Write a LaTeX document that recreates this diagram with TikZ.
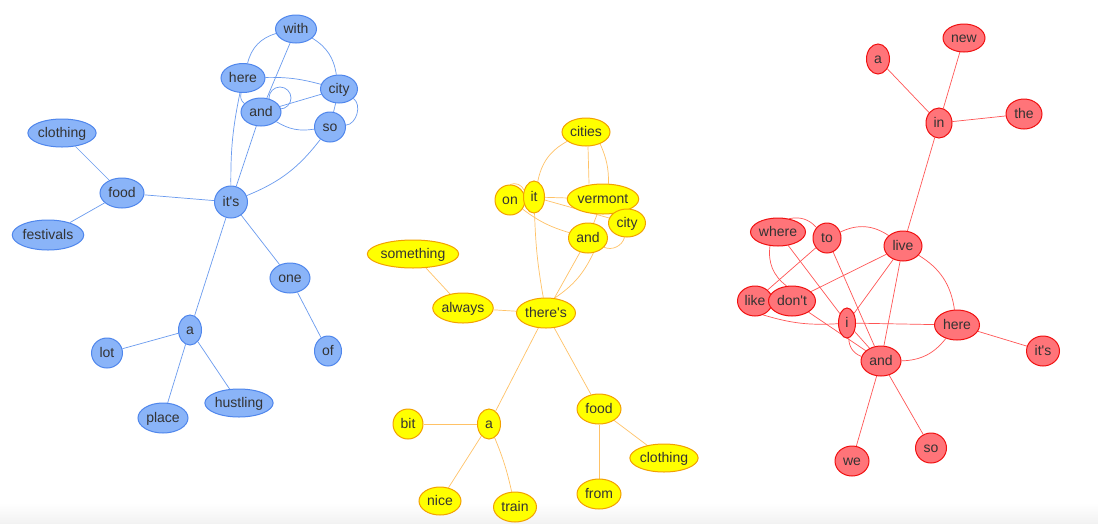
\documentclass[tikz,border=0pt]{standalone}
\usepackage{fontspec}
\setmainfont{Liberation Sans}
\usetikzlibrary{shapes.geometric}
\definecolor{txt}{HTML}{333333}
\definecolor{bfill}{HTML}{8AB4F8}
\definecolor{bdraw}{HTML}{4F86EC}
\definecolor{bedge}{HTML}{6A9BEF}
\definecolor{yfill}{HTML}{FFFF00}
\definecolor{ydraw}{HTML}{F2A000}
\definecolor{yedge}{HTML}{FFC266}
\definecolor{rfill}{HTML}{FF7479}
\definecolor{rdraw}{HTML}{F01010}
\definecolor{redge}{HTML}{FF5555}
\newcommand\ap{\textquotesingle}
\pgfdeclarelayer{bgl}
\pgfdeclarelayer{edges}
\pgfsetlayers{bgl,edges,main}
\tikzset{
  wn/.style={ellipse, inner sep=0pt, text=txt, font=\fontsize{14}{16}\selectfont, text height=11.5pt, text depth=2pt, line width=1pt},
  bn/.style={wn, fill=bfill, draw=bdraw},
  yn/.style={wn, fill=yfill, draw=ydraw},
  rn/.style={wn, fill=rfill, draw=rdraw},
  sz/.style 2 args={minimum width=#1pt, minimum height=#2pt},
  be/.style={draw=bedge, line width=0.7pt},
  ye/.style={draw=yedge, line width=0.7pt},
  re/.style={draw=redge, line width=0.7pt},
}
\begin{document}
\begin{tikzpicture}[x=1pt,y=1pt]
\useasboundingbox (0,0) rectangle (1098,-523);
\begin{pgfonlayer}{bgl}
\fill[white] (0,0) rectangle (1098,-523);
\shade[top color=white,bottom color=black!5] (0,-503) rectangle (1098,-523);
\end{pgfonlayer}
% ---------- blue cluster ----------
\node[bn,sz={41}{28}] (bwith) at (296,-29) {with};
\node[bn,sz={44}{29}] (bhere) at (243,-78) {here};
\node[bn,sz={37}{28}] (bcity) at (339,-89) {city};
\node[bn,sz={31}{30}] (bso) at (330,-127) {so};
\node[bn,sz={40}{28}] (band) at (261,-112) {and};
\node[bn,sz={33}{32}] (bits) at (231,-202) {it\ap s};
\node[bn,sz={66}{28}] (bclothing) at (62,-133) {clothing};
\node[bn,sz={44}{30}] (bfood) at (122,-193) {food};
\node[bn,sz={68}{30}] (bfestivals) at (48,-235) {festivals};
\node[bn,sz={40}{30}] (bone) at (290,-278) {one};
\node[bn,sz={27}{30}] (bof) at (328,-351) {of};
\node[bn,sz={23}{30}] (ba) at (190,-330) {a};
\node[bn,sz={31}{30}] (blot) at (107,-353) {lot};
\node[bn,sz={50}{30}] (bplace) at (163,-418) {place};
\node[bn,sz={66}{28}] (bhustling) at (239,-403) {hustling};
% ---------- yellow cluster ----------
\node[yn,sz={48}{28}] (ycities) at (586,-132) {cities};
\node[yn,sz={30}{30}] (yon) at (510,-200) {on};
\node[yn,sz={21}{32}] (yit) at (534,-197) {it};
\node[yn,sz={68}{30}] (yvermont) at (603,-199) {vermont};
\node[yn,sz={37}{28}] (ycity) at (627,-223) {city};
\node[yn,sz={39}{30}] (yand) at (588,-238) {and};
\node[yn,sz={59}{30}] (ytheres) at (546,-313) {there\ap s};
\node[yn,sz={83}{28}] (ysomething) at (413,-254) {something};
\node[yn,sz={60}{30}] (yalways) at (463,-308) {always};
\node[yn,sz={23}{30}] (ya) at (489,-424) {a};
\node[yn,sz={30}{30}] (ybit) at (408,-424) {bit};
\node[yn,sz={42}{28}] (ynice) at (440,-501) {nice};
\node[yn,sz={43}{30}] (ytrain) at (515,-507) {train};
\node[yn,sz={44}{30}] (yfood) at (599,-409) {food};
\node[yn,sz={66}{28}] (yclothing) at (664,-458) {clothing};
\node[yn,sz={44}{30}] (yfrom) at (599,-494) {from};
% ---------- red cluster ----------
\node[rn,sz={23}{30}] (ra) at (878,-59) {a};
\node[rn,sz={42}{28}] (rnew) at (964,-38) {new};
\node[rn,sz={26}{30}] (rin) at (939,-123) {in};
\node[rn,sz={36}{30}] (rthe) at (1024,-114) {the};
\node[rn,sz={55}{28}] (rwhere) at (778,-232) {where};
\node[rn,sz={28}{30}] (rto) at (827,-238) {to};
\node[rn,sz={38}{30}] (rlive) at (903,-246) {live};
\node[rn,sz={35}{30}] (rlike) at (755,-301) {like};
\node[rn,sz={47}{30}] (rdont) at (792,-301) {don\ap t};
\node[rn,sz={17}{30}] (ri) at (847,-323) {i};
\node[rn,sz={45}{30}] (rhere) at (957,-325) {here};
\node[rn,sz={33}{30}] (rits) at (1043,-351) {it\ap s};
\node[rn,sz={40}{30}] (rand) at (881,-361) {and};
\node[rn,sz={34}{30}] (rwe) at (852,-461) {we};
\node[rn,sz={31}{30}] (rso) at (931,-448) {so};
\begin{pgfonlayer}{edges}
% blue edges
\draw[be] (bfood) -- (bclothing);
\draw[be] (bfood) -- (bfestivals);
\draw[be] (bfood) -- (bits);
\draw[be] (bits) -- (ba);
\draw[be] (bits) -- (bone);
\draw[be] (bone) -- (bof);
\draw[be] (ba) -- (blot);
\draw[be] (ba) -- (bplace);
\draw[be] (ba) -- (bhustling);
\draw[be] (bits) -- (band);
\draw[be] (bits) to[bend left=6] (bhere);
\draw[be] (bits) to[bend right=15] (bso);
\draw[be] (bhere) to[bend left=30] (bwith);
\draw[be] (band) -- (bwith);
\draw[be] (bwith) to[bend left=25] (bcity);
\draw[be] (bhere) to[bend left=8] (bcity);
\draw[be] (bhere) to[bend right=35] (band);
\draw[be] (band) -- (bcity);
\draw[be] (band) to[bend right=20] (bso);
\draw[be] (bcity) -- (bso);
\draw[be] (bcity) to[bend left=70] (bso);
\draw[be] ([shift={(19,14)}]band.center) circle[radius=11];
% yellow edges
\draw[ye] (ysomething) -- (yalways);
\draw[ye] (yalways) -- (ytheres);
\draw[ye] (ytheres) -- (ya);
\draw[ye] (ya) -- (ybit);
\draw[ye] (ya) -- (ynice);
\draw[ye] (ya) to[bend left=5] (ytrain);
\draw[ye] (ytheres) -- (yfood);
\draw[ye] (yfood) -- (yfrom);
\draw[ye] (yfood) -- (yclothing);
\draw[ye] (ytheres) -- (yand);
\draw[ye] (ytheres.60) to[bend right=15] (yand.-70);
\draw[ye] (yit) to[bend right=4] (ytheres);
\draw[ye] (yit) to[bend left=25] (ycities);
\draw[ye] ([xshift=2pt]ycities.south) -- ([xshift=-14pt]yvermont.north);
\draw[ye] (ycities.-40) to[bend left=12] (yvermont.70);
\draw[ye] (yon.north) to[bend left=45] (yit.145);
\draw[ye] (yit) -- (yvermont);
\draw[ye] (yit) -- (ycity);
\draw[ye] (yon) to[bend right=10] (yand);
\draw[ye] (yvermont) -- (yand);
\draw[ye] (yvermont) -- (ycity);
\draw[ye] (yand.-30) to[bend right=50] (ycity.-100);
% red edges
\draw[re] (ra) -- (rin);
\draw[re] (rnew) -- (rin);
\draw[re] (rin) -- (rthe);
\draw[re] (rin) -- (rlive);
\draw[re] (rwhere.50) to[bend left=30] (rto.135);
\draw[re] (rwhere) -- (ri);
\draw[re] (rwhere.-120) to[bend right=30] (rdont.110);
\draw[re] (rto) -- (rlike);
\draw[re] (rto) to[bend left=30] (rlive);
\draw[re] (rto) -- (rand);
\draw[re] (rlive) -- (rdont);
\draw[re] (rlive) -- (ri);
\draw[re] (rlive) -- (rand);
\draw[re] (rlive) to[bend left=25] (rhere);
\draw[re] (rlike.-60) to[bend right=10] (ri);
\draw[re] (ri) -- (rhere);
\draw[re] (rdont) -- (rand);
\draw[re] (ri) to[bend right=35] (rand);
\draw[re] (ri) -- (rand);
\draw[re] (rand) to[bend right=25] (rhere);
\draw[re] (rhere) -- (rits);
\draw[re] (rand) -- (rwe);
\draw[re] (rand) -- (rso);
\end{pgfonlayer}
\end{tikzpicture}
\end{document}
